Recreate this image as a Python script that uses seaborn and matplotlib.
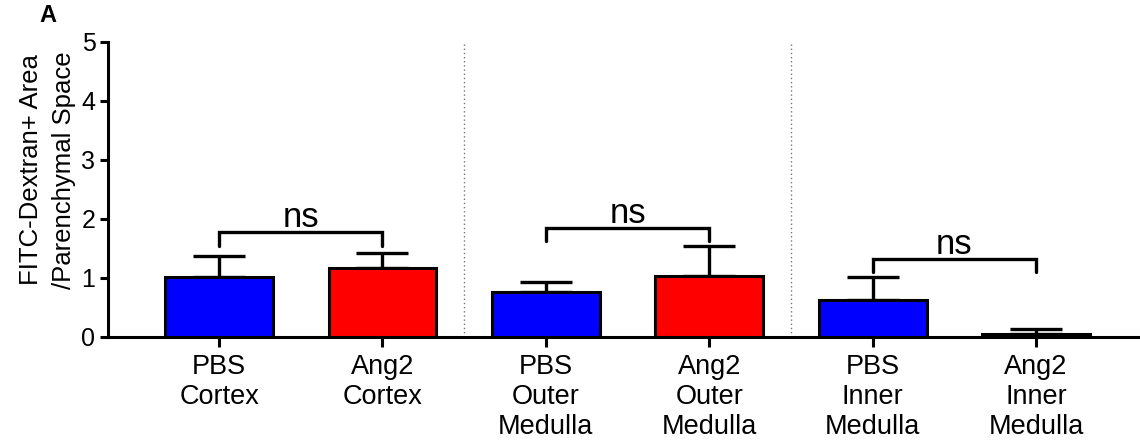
import matplotlib
matplotlib.use("Agg")
import matplotlib.pyplot as plt
import seaborn as sns
import numpy as np
import pandas as pd

# Group labels and measured values
groups = ["PBS\nCortex", "Ang2\nCortex", "PBS\nOuter\nMedulla", "Ang2\nOuter\nMedulla",
          "PBS\nInner\nMedulla", "Ang2\nInner\nMedulla"]
means = [1.02, 1.17, 0.76, 1.03, 0.63, 0.05]
sem = [0.35, 0.25, 0.17, 0.51, 0.39, 0.08]
bar_colors = ["#0000FF", "#FF0000", "#0000FF", "#FF0000", "#0000FF", "#FF0000"]

# Pairwise comparisons: (left group, right group, bracket height, left leg end, right leg end)
comparisons = [(0, 1, 1.78, 1.54, 1.54), (2, 3, 1.85, 1.62, 1.62), (4, 5, 1.32, 1.10, 1.10)]
comparison_text = ["ns", "ns", "ns"]

y_ticks = [0, 1, 2, 3, 4, 5]
y_label = "FITC-Dextran+ Area\n/Parenchymal Space"

sns.set_style("ticks", {"axes.edgecolor": "black", "text.color": "black",
                        "xtick.color": "black", "ytick.color": "black",
                        "axes.labelcolor": "black"})
plt.rcParams["font.family"] = ["Liberation Sans", "DejaVu Sans"]

df = pd.DataFrame({"group": groups, "value": means})

fig = plt.figure(figsize=(11.40, 4.42), dpi=100)
ax = fig.add_axes([0.0947, 0.2376, 0.9053, 0.6674])

sns.barplot(data=df, x="group", y="value", hue="group", palette=bar_colors,
            legend=False, width=0.66, edgecolor="black", linewidth=2.2,
            saturation=1, ax=ax, zorder=3)

ax.errorbar(np.arange(len(groups)), means, yerr=[np.zeros(len(means)), sem],
            fmt="none", ecolor="black", elinewidth=2.4, capsize=19, capthick=2.4,
            zorder=2)

# Region separators
for xs in (1.5, 3.5):
    ax.axvline(xs, ymin=0, ymax=1, color="#777777", linestyle=(0, (1, 2)), linewidth=1.0, zorder=1)

# Significance brackets
for (i, j, h, l1, l2), txt in zip(comparisons, comparison_text):
    ax.plot([i, i, j, j], [l1, h, h, l2], color="black", linewidth=2.4,
            solid_joinstyle="miter", zorder=4)
    ax.text((i + j) / 2, h + 0.08, txt, ha="center", va="baseline", fontsize=25,
            color="black", zorder=4)

ax.set_xlim(-0.68, 5.636)
ax.set_ylim(0, 5)
ax.set_yticks(y_ticks)
ax.set_yticklabels([str(t) for t in y_ticks], fontsize=18)
ax.set_xlabel("")
ax.set_ylabel(y_label, fontsize=18.5, linespacing=1.45)
ax.yaxis.set_label_coords(-0.031, 0.566)

for label in ax.get_xticklabels():
    label.set_fontsize(19.5)
    label.set_linespacing(1.2)

sns.despine(ax=ax)
for side in ("left", "bottom"):
    ax.spines[side].set_linewidth(2.2)
ax.tick_params(axis="x", length=7, width=2.2, pad=5)
ax.tick_params(axis="y", length=6, width=2.2, pad=3)

fig.text(0.035, 0.965, "A", fontsize=17, fontweight="bold", ha="left", va="center")

fig.savefig("out.png", dpi=100)
